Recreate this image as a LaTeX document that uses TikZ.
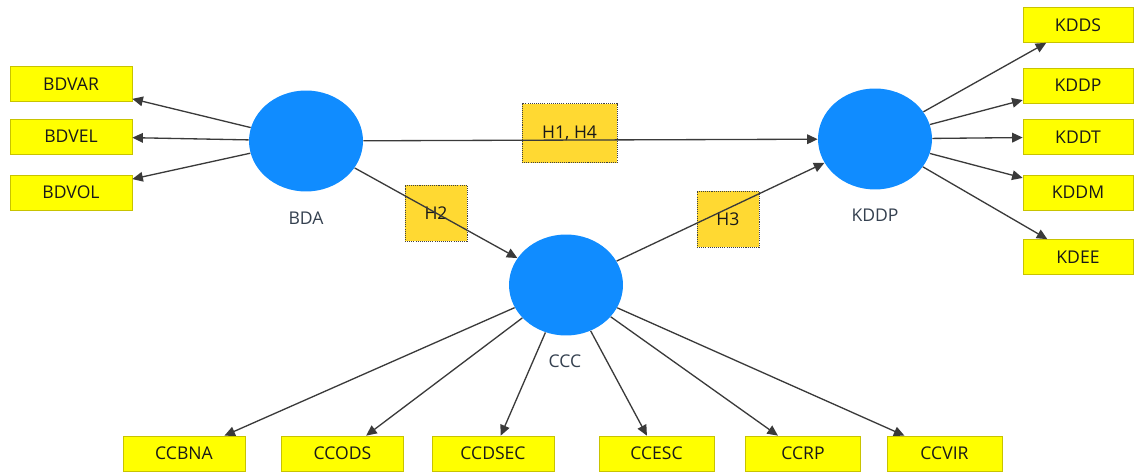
\documentclass[tikz,border=0pt]{standalone}
\usepackage{fontspec}
\setmainfont{Open Sans}
\usetikzlibrary{arrows.meta,shapes.geometric}
\definecolor{boxyellow}{HTML}{FFFF00}
\definecolor{boxedge}{HTML}{C8C300}
\definecolor{hypfill}{HTML}{FFD932}
\definecolor{latblue}{HTML}{108CFF}
\definecolor{lblgray}{HTML}{34404F}
\definecolor{linegray}{HTML}{3A3A3A}
\tikzset{ind/.style={draw=boxedge, fill=boxyellow, minimum width=2.44cm,
           minimum height=0.7cm, inner sep=0pt, text=black!90,
           font=\fontsize{10}{12}\selectfont},
         latent/.style={ellipse, fill=latblue, minimum width=2.28cm,
           minimum height=2.02cm, inner sep=0pt},
         latlabel/.style={text=lblgray, inner sep=0pt,
           font=\fontsize{10}{12}\selectfont},
         hyp/.style={draw=black!75, line width=0.5pt, dash pattern=on 0.6pt off 0.6pt,
           fill=hypfill, minimum width=1.24cm, minimum height=1.12cm,
           inner sep=0pt, behind path, text=black!90,
           font=\fontsize{10}{12}\selectfont},
         link/.style={draw=linegray, line width=0.75pt,
           -{Triangle[length=6pt,width=5.5pt]}}}

\begin{document}
\begin{tikzpicture}[x=0.02cm, y=-0.02cm]
  \useasboundingbox (0,0) rectangle (1136,472);
  % latent variables
  \node[latent] (bda) at (306,141) {};
  \node[latent] (kddp) at (875,139) {};
  \node[latent] (ccc) at (566,285) {};
  \node[latlabel] (bdalbl) at (306,218) {BDA};
  \node[latlabel] (kddplbl) at (875,215) {KDDP};
  \node[latlabel] (ccclbl) at (565,361) {CCC};
  % indicators of BDA
  \node[ind] (bdvar) at (71,84) {BDVAR};
  \node[ind] (bdvel) at (71,136.5) {BDVEL};
  \node[ind] (bdvol) at (71,192.5) {BDVOL};
  % indicators of KDDP
  \node[ind, minimum width=2.2cm] (kdds) at (1078,25) {KDDS};
  \node[ind, minimum width=2.2cm] (kddpi) at (1078,85.5) {KDDP};
  \node[ind, minimum width=2.2cm] (kddt) at (1078,137) {KDDT};
  \node[ind, minimum width=2.2cm] (kddm) at (1078,192.5) {KDDM};
  \node[ind, minimum width=2.2cm] (kdee) at (1078,257) {KDEE};
  % indicators of CCC
  \node[ind] (ccbna) at (184,453.5) {CCBNA};
  \node[ind] (ccods) at (342.5,453.5) {CCODS};
  \node[ind] (ccdsec) at (493,453.5) {CCDSEC};
  \node[ind, minimum width=2.3cm] (ccesc) at (656.5,453.5) {CCESC};
  \node[ind, minimum width=2.3cm] (ccrp) at (803,453.5) {CCRP};
  \node[ind, minimum width=2.3cm] (ccvir) at (944.5,453.5) {CCVIR};

  \foreach \t in {bdvar,bdvel,bdvol}
    \draw[link] (bda) -- (\t);
  \foreach \t in {kdds,kddpi,kddt,kddm,kdee}
    \draw[link] (kddp) -- (\t);
  \foreach \t in {ccbna,ccods,ccdsec,ccesc,ccrp,ccvir}
    \draw[link] (ccc) -- (\t);

  % hypotheses
  \draw[link] (bda) -- node[hyp, pos=0.454, yshift=0.14cm,
    minimum width=1.9cm, minimum height=1.18cm] (h14) {H1, H4} (kddp);
  \draw[link] (bda) -- node[hyp, pos=0.5] (h2) {H2} (ccc);
  \draw[link] (ccc) -- node[hyp, pos=0.536, yshift=-0.21cm] (h3) {H3} (kddp);
\end{tikzpicture}
\end{document}
